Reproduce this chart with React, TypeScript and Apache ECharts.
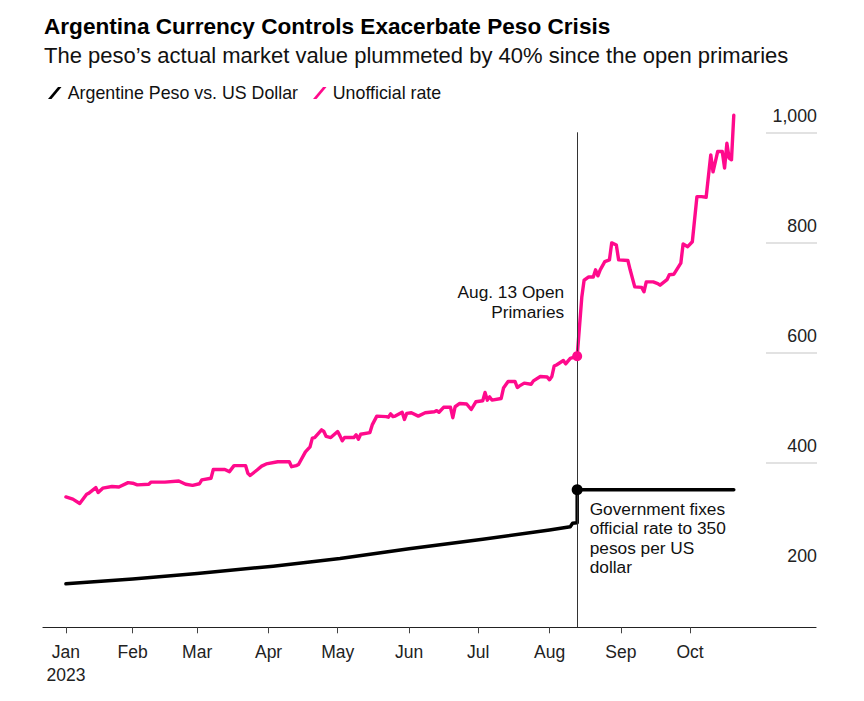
import React, { useEffect, useRef } from "react";
import * as echarts from "echarts";

const FONT = "'Liberation Sans', Arial, Helvetica, sans-serif";

const titleText = "Argentina Currency Controls Exacerbate Peso Crisis";
const subtitleText = "The peso’s actual market value plummeted by 40% since the open primaries";
const officialName = "Argentine Peso vs. US Dollar";
const unofficialName = "Unofficial rate";

const monthNames = ["Jan", "Feb", "Mar", "Apr", "May", "Jun", "Jul", "Aug", "Sep", "Oct", "Nov", "Dec"];
const tickDates = ["2023-01-03", "2023-02-01", "2023-03-01", "2023-04-01", "2023-05-01", "2023-06-01", "2023-07-01", "2023-08-01", "2023-09-01", "2023-10-01"];
const yTickValues = [200, 400, 600, 800, 1000];

const eventDate = "2023-08-13";
const officialEventValue = 350;
const unofficialEventValue = 593;
const eventLabel = "Aug. 13 Open\nPrimaries";
const officialLabel = "Government fixes\nofficial rate to 350\npesos per US\ndollar";

const officialDates = [
  "2023-01-03", "2023-02-01", "2023-03-01", "2023-04-03", "2023-05-02", "2023-06-01",
  "2023-07-03", "2023-08-01", "2023-08-10", "2023-08-11", "2023-08-13", "2023-08-13",
  "2023-08-14", "2023-09-15", "2023-10-20",
];
const officialValues = [
  179, 188, 198, 211, 225, 243,
  260, 277, 283, 289, 290, 350,
  350, 350, 350,
];

const unofficialDates = [
  "2023-01-03", "2023-01-06", "2023-01-09", "2023-01-12", "2023-01-13", "2023-01-16", "2023-01-17", "2023-01-19",
  "2023-01-23", "2023-01-26", "2023-01-30", "2023-02-01", "2023-02-03", "2023-02-08", "2023-02-09", "2023-02-15",
  "2023-02-21", "2023-02-24", "2023-02-27", "2023-03-02", "2023-03-03", "2023-03-07", "2023-03-08", "2023-03-13",
  "2023-03-15", "2023-03-17", "2023-03-22", "2023-03-23", "2023-03-24", "2023-03-27", "2023-03-29", "2023-03-31",
  "2023-04-05", "2023-04-10", "2023-04-11", "2023-04-13", "2023-04-14", "2023-04-17", "2023-04-19", "2023-04-20",
  "2023-04-21", "2023-04-24", "2023-04-25", "2023-04-26", "2023-04-28", "2023-05-01", "2023-05-02", "2023-05-03",
  "2023-05-04", "2023-05-08", "2023-05-09", "2023-05-10", "2023-05-11", "2023-05-15", "2023-05-16", "2023-05-18",
  "2023-05-22", "2023-05-23", "2023-05-24", "2023-05-25", "2023-05-26", "2023-05-29", "2023-05-30", "2023-05-31",
  "2023-06-02", "2023-06-05", "2023-06-08", "2023-06-12", "2023-06-13", "2023-06-14", "2023-06-16", "2023-06-19",
  "2023-06-20", "2023-06-21", "2023-06-23", "2023-06-26", "2023-06-28", "2023-06-30", "2023-07-03", "2023-07-04",
  "2023-07-05", "2023-07-06", "2023-07-07", "2023-07-11", "2023-07-12", "2023-07-14", "2023-07-17", "2023-07-18",
  "2023-07-19", "2023-07-21", "2023-07-24", "2023-07-25", "2023-07-28", "2023-07-31", "2023-08-01", "2023-08-02",
  "2023-08-03", "2023-08-04", "2023-08-07", "2023-08-08", "2023-08-10", "2023-08-13", "2023-08-15", "2023-08-16",
  "2023-08-18", "2023-08-20", "2023-08-21", "2023-08-22", "2023-08-23", "2023-08-25", "2023-08-27", "2023-08-28",
  "2023-08-30", "2023-08-31", "2023-09-04", "2023-09-05", "2023-09-07", "2023-09-10", "2023-09-11", "2023-09-12",
  "2023-09-15", "2023-09-17", "2023-09-18", "2023-09-21", "2023-09-22", "2023-09-24", "2023-09-27", "2023-09-28",
  "2023-09-30", "2023-10-02", "2023-10-04", "2023-10-06", "2023-10-08", "2023-10-10", "2023-10-11", "2023-10-13",
  "2023-10-15", "2023-10-16", "2023-10-17", "2023-10-18", "2023-10-19", "2023-10-20",
];
const unofficialValues = [
  337, 333, 325, 342, 344, 354, 345, 353,
  356, 355, 363, 362, 359, 360, 364, 364,
  366, 360, 358, 361, 368, 371, 387, 387,
  383, 394, 394, 380, 376, 386, 393, 397,
  401, 401, 392, 394, 396, 419, 428, 444,
  445, 459, 456, 447, 445, 456, 448, 439,
  445, 445, 450, 442, 451, 454, 468, 484,
  483, 482, 488, 483, 484, 491, 478, 489,
  490, 484, 490, 492, 494, 491, 500, 500,
  481, 501, 507, 506, 496, 510, 512, 527,
  513, 519, 513, 516, 535, 547, 547, 536,
  539, 544, 542, 548, 556, 555, 550, 556,
  575, 577, 585, 579, 589, 593, 700, 731,
  737, 737, 750, 739, 750, 765, 768, 799,
  795, 768, 767, 750, 719, 718, 710, 728,
  728, 725, 722, 732, 741, 742, 762, 797,
  792, 801, 883, 883, 882, 959, 928, 965,
  965, 935, 980, 953, 950, 1031,
];

const ts = (s: string) => {
  const [y, m, d] = s.split("-").map(Number);
  return Date.UTC(y, m - 1, d);
};
const DAY = 86400000;

const SLASH = "path://M0,12 L10,0 L13.5,0 L3.5,12 Z";

export default function App() {
  const ref = useRef<HTMLDivElement>(null);

  useEffect(() => {
    document.body.style.margin = "0";
    if (!ref.current) return;
    const chart = echarts.init(ref.current, undefined, { renderer: "svg" });
    const t0 = ts("2023-01-01");
    const tickTs = tickDates.map(ts);
    const evT = ts(eventDate);

    const option: any = {
      animation: false,
      backgroundColor: "#ffffff",
      textStyle: { fontFamily: FONT },
      title: {
        text: titleText,
        subtext: subtitleText,
        left: 39,
        top: 10,
        itemGap: 6,
        textStyle: { fontFamily: FONT, fontSize: 22.6, fontWeight: "bold", color: "#000" },
        subtextStyle: { fontFamily: FONT, fontSize: 22, color: "#111" },
      },
      legend: {
        left: 43,
        top: 79,
        itemWidth: 16,
        itemHeight: 12,
        itemGap: 15,
        textStyle: { fontFamily: FONT, fontSize: 17.8, color: "#111" },
        data: [
          { name: officialName, icon: SLASH },
          { name: unofficialName, icon: SLASH },
        ],
      },
      grid: [
        { left: 43, right: 48, top: 77.3, bottom: 73.7 },
        { left: 766, right: 47, top: 132.3, bottom: 128.7 },
      ],
      xAxis: [
        {
          type: "value",
          gridIndex: 0,
          min: t0 - 7.95 * DAY,
          max: t0 + 327.7 * DAY,
          axisLine: { lineStyle: { color: "#222", width: 1.2 } },
          axisTick: { show: true, length: 6, customValues: tickTs, lineStyle: { color: "#444", width: 1 } },
          axisLabel: {
            customValues: tickTs,
            fontFamily: FONT,
            fontSize: 17.5,
            lineHeight: 23.5,
            color: "#222",
            margin: 12.5,
            showMinLabel: true,
            showMaxLabel: true,
            formatter: (v: number) => {
              const d = new Date(v);
              const m = d.getUTCMonth();
              return monthNames[m] + (m === 0 ? "\n" + d.getUTCFullYear() : "");
            },
          },
          splitLine: { show: false },
        },
        { type: "value", gridIndex: 1, show: false, min: 0, max: 1 },
      ],
      yAxis: [
        { type: "value", gridIndex: 0, min: 100, max: 1100, show: false },
        {
          type: "value",
          gridIndex: 1,
          min: yTickValues[0],
          max: yTickValues[yTickValues.length - 1],
          interval: 200,
          position: "right",
          axisLine: { show: false },
          axisTick: { show: false },
          axisLabel: {
            inside: true,
            margin: 0,
            fontFamily: FONT,
            fontSize: 17.8,
            color: "#222",
            verticalAlign: "bottom",
            padding: [0, 0, 7.5, 0],
            formatter: (v: number) => v.toLocaleString("en-US"),
          },
          splitLine: { show: true, showMinLine: false, lineStyle: { color: "#d9d9d9", width: 1.5 } },
        },
      ],
      series: [
        {
          type: "line",
          name: officialName,
          xAxisIndex: 0,
          yAxisIndex: 0,
          data: officialDates.map((d, i) => [ts(d), officialValues[i]]),
          showSymbol: false,
          lineStyle: { color: "#000", width: 3.5, join: "round", cap: "round" },
          itemStyle: { color: "#000" },
          z: 3,
          markLine: {
            silent: true,
            symbol: ["none", "none"],
            lineStyle: { color: "#333", width: 1, type: "solid" },
            label: { show: false },
            emphasis: { disabled: true },
            data: [[{ coord: [evT, 100] }, { coord: [evT, 1000] }]],
          },
          markPoint: {
            silent: true,
            symbol: "circle",
            symbolSize: 11,
            itemStyle: { color: "#000" },
            label: {
              show: true,
              position: "right",
              distance: 7,
              offset: [0, 48],
              align: "left",
              formatter: officialLabel,
              fontFamily: FONT,
              fontSize: 17.3,
              lineHeight: 19.5,
              color: "#111",
            },
            data: [{ coord: [evT, officialEventValue] }],
          },
        },
        {
          type: "line",
          name: unofficialName,
          xAxisIndex: 0,
          yAxisIndex: 0,
          data: unofficialDates.map((d, i) => [ts(d), unofficialValues[i]]),
          showSymbol: false,
          lineStyle: { color: "#ff0a8c", width: 3.4, join: "round", cap: "round" },
          itemStyle: { color: "#ff0a8c" },
          z: 4,
          markPoint: {
            silent: true,
            symbol: "circle",
            symbolSize: 10,
            itemStyle: { color: "#ff0a8c" },
            label: {
              show: true,
              position: "left",
              distance: 8,
              offset: [0, -54],
              align: "right",
              formatter: eventLabel,
              fontFamily: FONT,
              fontSize: 17.3,
              lineHeight: 20,
              color: "#111",
            },
            data: [{ coord: [evT, unofficialEventValue] }],
          },
        },
      ],
    };

    chart.setOption(option);
    return () => chart.dispose();
  }, []);

  return <div ref={ref} style={{ width: 864, height: 701 }} />;
}
